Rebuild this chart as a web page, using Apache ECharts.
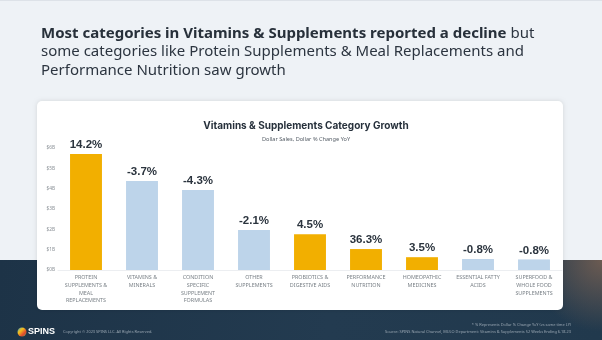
<!DOCTYPE html>
<html>
<head>
<meta charset="utf-8">
<script src="https://cdn.jsdelivr.net/npm/echarts@6/dist/echarts.min.js"></script>
<style>
  html, body { margin: 0; padding: 0; background: #eef2f6; }
  #chart { width: 602px; height: 340px; }
</style>
</head>
<body>
<div id="chart"></div>
<script>
// Category names (multi-line for the axis)
const categories = [
  "PROTEIN\nSUPPLEMENTS &\nMEAL\nREPLACEMENTS",
  "VITAMINS &\nMINERALS",
  "CONDITION\nSPECIFIC\nSUPPLEMENT\nFORMULAS",
  "OTHER\nSUPPLEMENTS",
  "PROBIOTICS &\nDIGESTIVE AIDS",
  "PERFORMANCE\nNUTRITION",
  "HOMEOPATHIC\nMEDICINES",
  "ESSENTIAL FATTY\nACIDS",
  "SUPERFOOD &\nWHOLE FOOD\nSUPPLEMENTS"
];
// Dollar sales, billions
const dollarSales = [5.71, 4.38, 3.94, 1.97, 1.76, 1.03, 0.63, 0.54, 0.52];
// Dollar % change year over year
const pctChange = [14.2, -3.7, -4.3, -2.1, 4.5, 36.3, 3.5, -0.8, -0.8];
// Y axis tick values (billions)
const yTicks = [0, 1, 2, 3, 4, 5, 6];

const GROWTH = "#f2af00";
const DECLINE = "#bdd4ea";

const chart = echarts.init(document.getElementById("chart"), null, { renderer: "canvas" });

const option = {
  animation: false,
  backgroundColor: "#eef2f6",
  title: {
    text: "Vitamins & Supplements Category Growth",
    subtext: "Dollar Sales, Dollar % Change YoY",
    left: 301,
    textAlign: "center",
    top: 116,
    itemGap: 5,
    textStyle: { fontFamily: "Inter", fontSize: 10, fontWeight: "bold", color: "#27313c" },
    subtextStyle: { fontFamily: "Noto Sans", fontSize: 5.6, color: "#555d66" }
  },
  grid: { left: 58, right: 40, top: 148, bottom: 70, containLabel: false },
  xAxis: {
    type: "category",
    data: categories,
    axisLine: { lineStyle: { color: "#eceef1", width: 1 } },
    axisTick: { show: false },
    axisLabel: {
      interval: 0,
      margin: 4,
      fontFamily: "Noto Sans",
      fontSize: 5.4,
      lineHeight: 7.6,
      color: "#7b8288"
    }
  },
  yAxis: {
    type: "value",
    min: yTicks[0],
    max: yTicks[yTicks.length - 1],
    interval: 1,
    splitLine: { show: false },
    axisLine: { show: false },
    axisTick: { show: false },
    axisLabel: {
      margin: 3,
      fontFamily: "Noto Sans",
      fontSize: 4.8,
      color: "#8a9096",
      formatter: v => "$" + v + "B"
    }
  },
  series: [{
    type: "bar",
    barWidth: "57%",
    data: dollarSales.map((v, i) => ({
      value: v,
      itemStyle: { color: pctChange[i] > 0 ? GROWTH : DECLINE }
    })),
    label: {
      show: true,
      position: "top",
      distance: 3,
      fontFamily: "Liberation Sans",
      fontWeight: "bold",
      fontSize: 11.5,
      color: "#2b343e",
      formatter: p => pctChange[p.dataIndex].toFixed(1) + "%"
    }
  }],
  graphic: [
    // dark lower band
    {
      type: "rect", z: -20, silent: true,
      shape: { x: 0, y: 260, width: 602, height: 80 },
      style: {
        fill: new echarts.graphic.LinearGradient(0, 0, 1, 1, [
          { offset: 0, color: "#1d3347" },
          { offset: 0.55, color: "#233b50" },
          { offset: 1, color: "#21394d" }
        ])
      }
    },
    {
      type: "rect", z: -19, silent: true,
      shape: { x: 300, y: 260, width: 302, height: 80 },
      style: {
        fill: new echarts.graphic.RadialGradient(1, 0, 0.9, [
          { offset: 0, color: "rgba(112,93,82,0.95)" },
          { offset: 1, color: "rgba(112,93,82,0)" }
        ])
      }
    },
    // top hairline
    {
      type: "rect", z: -18, silent: true,
      shape: { x: 0, y: 0, width: 602, height: 1 },
      style: { fill: "#dde2e8" }
    },
    // white card
    {
      type: "rect", z: -10, silent: true,
      shape: { x: 37, y: 101, width: 526, height: 209, r: 5 },
      style: { fill: "#ffffff", shadowBlur: 4, shadowColor: "rgba(0,0,0,0.12)" }
    },
    // headline
    {
      type: "text", z: -5, silent: true,
      left: 41, top: 24,
      style: {
        text: "{b|Most categories in Vitamins & Supplements reported a decline} but\nsome categories like Protein Supplements & Meal Replacements and\nPerformance Nutrition saw growth",
        fontFamily: "Noto Sans",
        fontSize: 15,
        lineHeight: 18.5,
        fill: "#2c3540",
        rich: {
          b: { fontFamily: "Noto Sans", fontSize: 15, fontWeight: "bold", fill: "#27303a", lineHeight: 18.5 }
        }
      }
    },
    // logo mark
    {
      type: "circle", z: -5, silent: true,
      shape: { cx: 22, cy: 332, r: 4.5 },
      style: {
        fill: new echarts.graphic.LinearGradient(0, 0, 1, 1, [
          { offset: 0, color: "#3aa0d8" },
          { offset: 0.35, color: "#f4c21a" },
          { offset: 0.7, color: "#e2462f" },
          { offset: 1, color: "#5fb347" }
        ])
      }
    },
    {
      type: "text", z: -5, silent: true,
      left: 28, top: 327,
      style: { text: "SPINS", fontFamily: "Liberation Sans", fontWeight: "bold", fontSize: 9, fill: "#ffffff" }
    },
    {
      type: "text", z: -5, silent: true,
      left: 63, top: 330,
      style: { text: "Copyright © 2023 SPINS LLC. All Rights Reserved.", fontFamily: "Noto Sans", fontSize: 3.9, fill: "#9aa7b3" }
    },
    {
      type: "text", z: -5, silent: true,
      right: 31, top: 323,
      style: { text: "* % Represents Dollar % Change YoY (vs same time LY)", fontFamily: "Noto Sans", fontSize: 3.9, fill: "#9aa7b3", align: "right" }
    },
    {
      type: "text", z: -5, silent: true,
      right: 31, top: 330,
      style: { text: "Source: SPINS Natural Channel, MULO Department: Vitamins & Supplements 52 Weeks Ending 6.18.23", fontFamily: "Noto Sans", fontSize: 3.9, fill: "#9aa7b3", align: "right" }
    }
  ]
};

chart.setOption(option);
</script>
</body>
</html>
